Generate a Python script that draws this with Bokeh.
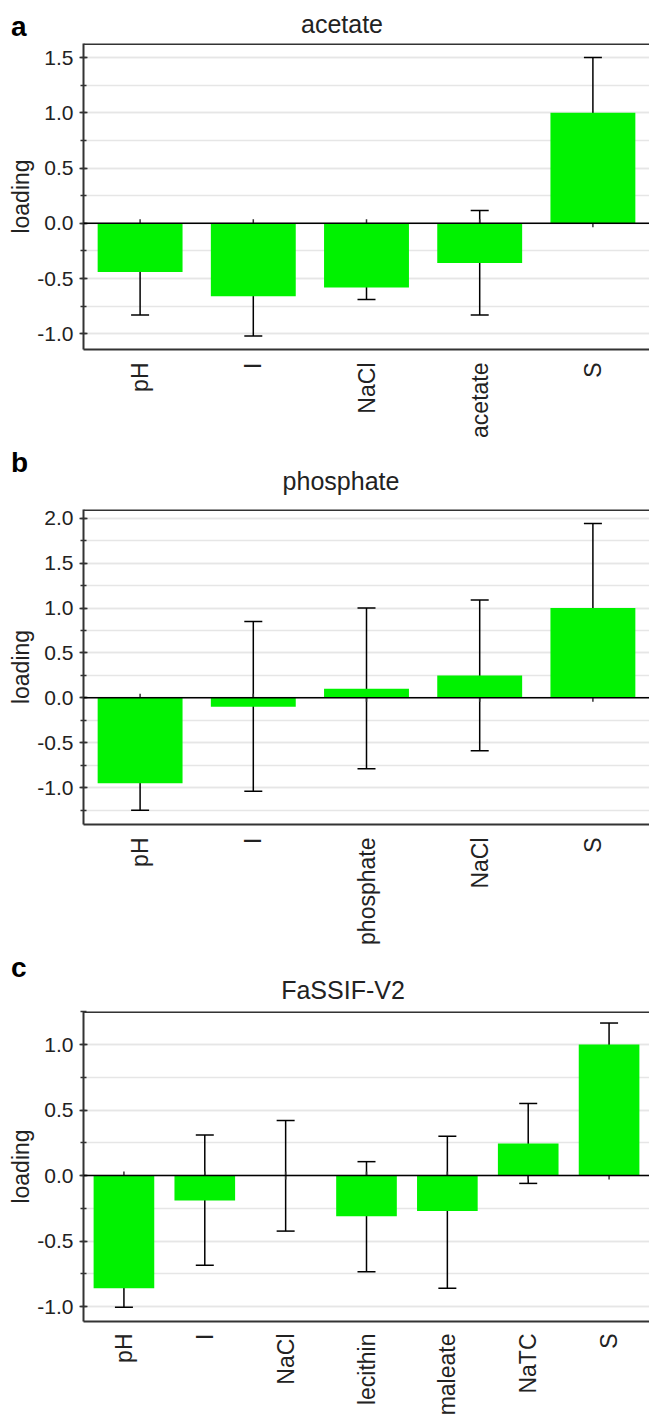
import math
from bokeh.plotting import figure
from bokeh.models import (Range1d, FactorRange, Whisker, ColumnDataSource, Span,
                          SingleIntervalTicker, PrintfTickFormatter, TeeHead, Div)
from bokeh.layouts import column
from bokeh.embed import file_html
from bokeh.resources import INLINE

# ---------------- data ----------------
a_cats = ["pH", "I", "NaCl", "acetate", "S"]
a_vals = [-0.44, -0.66, -0.58, -0.36, 1.0]
a_upper = [-0.06, -0.31, -0.48, 0.115, 1.5]
a_lower = [-0.83, -1.02, -0.69, -0.83, 0.5]

b_cats = ["pH", "I", "phosphate", "NaCl", "S"]
b_vals = [-0.95, -0.10, 0.10, 0.25, 1.0]
b_upper = [-0.66, 0.85, 1.0, 1.09, 1.94]
b_lower = [-1.25, -1.04, -0.79, -0.59, 0.06]

c_cats = ["pH", "I", "NaCl", "lecithin", "maleate", "NaTC", "S"]
c_vals = [-0.86, -0.19, 0.0, -0.31, -0.27, 0.245, 1.0]
c_upper = [-0.71, 0.31, 0.42, 0.106, 0.30, 0.55, 1.164]
c_lower = [-1.005, -0.685, -0.424, -0.735, -0.86, -0.06, 0.828]

FONT = "Liberation Sans"
GREEN = "#00f200"
DARK = "#333333"
W = 649


def header(letter, title, h, letter_top, title_center, title_top):
    html = (
        f'<div style="position:relative;width:{W}px;height:{h}px;overflow:visible;'
        f'font-family:\'{FONT}\',Arial,sans-serif;">'
        f'<span style="position:absolute;left:11px;top:{letter_top}px;font-size:28px;'
        f'line-height:28px;font-weight:bold;color:#000000;">{letter}</span>'
        f'<span style="position:absolute;left:{title_center}px;top:{title_top}px;'
        f'transform:translateX(-50%);font-size:25px;line-height:25px;color:#222222;'
        f'white-space:nowrap;">{title}</span></div>'
    )
    return Div(text=html, width=W, height=h, margin=0)


def make_panel(cats, vals, upper, lower, yr, height, b_top, b_left, b_bottom,
               xstandoff):
    p = figure(width=W, height=height, x_range=FactorRange(*cats),
               y_range=Range1d(*yr), output_backend="svg", toolbar_location=None,
               min_border_top=b_top, min_border_left=b_left,
               min_border_bottom=b_bottom, min_border_right=0)
    p.outline_line_color = None
    p.background_fill_color = "white"
    p.border_fill_color = "white"

    frame_h = height - b_top - b_bottom
    ppu = frame_h / (yr[1] - yr[0])

    # category ticks on the zero line
    d = 4.0 / ppu
    p.segment(x0=cats, x1=cats, y0=[-d] * len(cats), y1=[d] * len(cats),
              line_color=DARK, line_width=1.5)

    src = ColumnDataSource(dict(cat=cats, val=vals, upper=upper, lower=lower))
    p.vbar(x="cat", top="val", bottom=0, width=0.75, source=src,
           fill_color=GREEN, line_color=None)

    p.add_layout(Span(location=0, dimension="width", line_color="black", line_width=1.5))
    p.add_layout(Span(location=yr[1], dimension="width", line_color=DARK, line_width=3))

    w = Whisker(base="cat", upper="upper", lower="lower", source=src,
                line_color="black", line_width=1.5,
                upper_head=TeeHead(size=18, line_color="black", line_width=1.5),
                lower_head=TeeHead(size=18, line_color="black", line_width=1.5))
    p.add_layout(w)

    # y axis
    yax = p.yaxis[0]
    yax.ticker = SingleIntervalTicker(interval=0.5, num_minor_ticks=2)
    yax.formatter = PrintfTickFormatter(format="%.1f")
    yax.axis_label = "loading"
    yax.axis_label_text_font = FONT
    yax.axis_label_text_font_size = "23px"
    yax.axis_label_text_font_style = "normal"
    yax.axis_label_text_color = "#222222"
    yax.axis_label_standoff = 0
    yax.major_label_text_font = FONT
    yax.major_label_text_font_size = "21px"
    yax.major_label_text_color = "#222222"
    yax.major_label_standoff = 6
    yax.axis_line_color = DARK
    yax.axis_line_width = 2
    yax.major_tick_line_color = DARK
    yax.major_tick_line_width = 1.5
    yax.major_tick_in = 4
    yax.major_tick_out = 4
    yax.minor_tick_line_color = DARK
    yax.minor_tick_line_width = 1.5
    yax.minor_tick_in = 3
    yax.minor_tick_out = 3

    # x axis
    xax = p.xaxis[0]
    xax.major_label_orientation = math.pi / 2
    xax.major_label_text_font = FONT
    xax.major_label_text_font_size = "23px"
    xax.major_label_text_color = "#222222"
    xax.major_label_standoff = xstandoff
    xax.major_tick_line_color = None
    xax.minor_tick_line_color = None
    xax.major_tick_in = 0
    xax.major_tick_out = 0
    xax.minor_tick_in = 0
    xax.minor_tick_out = 0
    xax.axis_line_color = DARK
    xax.axis_line_width = 2

    p.xgrid.grid_line_color = None
    p.ygrid.grid_line_color = "#e6e6e6"
    p.ygrid.grid_line_width = 1.5
    p.ygrid.minor_grid_line_color = "#e6e6e6"
    p.ygrid.minor_grid_line_width = 1.5
    return p


ha = header("a", "acetate", 41, 13, 342, 12)
pa = make_panel(a_cats, a_vals, a_upper, a_lower, (-1.142, 1.627),
                407, 2, 81, 99, 13)
hb = header("b", "phosphate", 54, 1, 341, 21)
pb = make_panel(b_cats, b_vals, b_upper, b_lower, (-1.41, 2.097),
                451, 7, 83, 129, 13)
hc = header("c", "FaSSIF-V2", 51, 1, 343, 25)
pc = make_panel(c_cats, c_vals, c_upper, c_lower, (-1.114, 1.252),
                414, 7, 83, 95, 12)

layout = column(ha, pa, hb, pb, hc, pc, spacing=0)
open("out.html", "w").write(file_html(layout, INLINE))
